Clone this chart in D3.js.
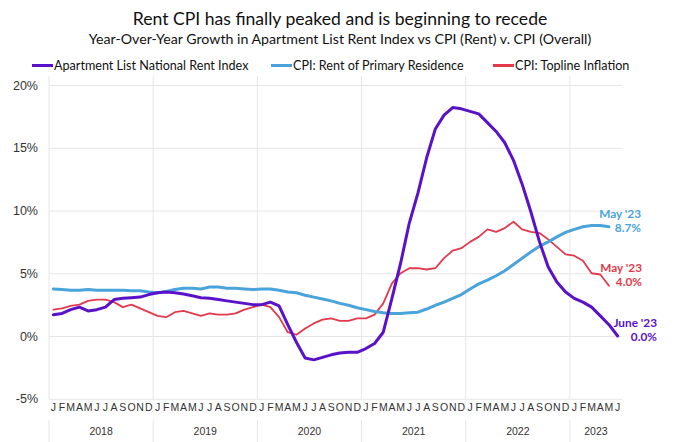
<!DOCTYPE html>
<html>
<head>
<meta charset="utf-8">
<script src="https://cdn.jsdelivr.net/npm/d3@7"></script>
<style>
  body { margin: 0; background: #fff; }
  svg { display: block; }
  .title { font-family: Lato, "Noto Sans", sans-serif; fill: #111; }
  .tick text { font-family: "Liberation Sans", Arial, sans-serif; fill: #333; }
</style>
</head>
<body>
<svg id="chart" width="680" height="442"></svg>
<script>
const YEARS = [2018, 2019, 2020, 2021, 2022, 2023];
const MONTH_LETTERS = ["J", "F", "M", "A", "M", "J", "J", "A", "S", "O", "N", "D"];
const Y_TICKS = [-5, 0, 5, 10, 15, 20];

// Jan 2018 .. Jun 2023
const APARTMENT_LIST = [
  1.7, 1.8, 2.1, 2.3, 2.0, 2.1, 2.3, 2.9, 3.0, 3.05, 3.1, 3.3,
  3.45, 3.5, 3.45, 3.35, 3.2, 3.05, 3.0, 2.9, 2.8, 2.7, 2.6, 2.5,
  2.5, 2.7, 2.4, 0.9, -0.5, -1.75, -1.9, -1.7, -1.5, -1.35, -1.3, -1.3,
  -1.0, -0.6, 0.3, 3.0, 5.8, 9.0, 11.4, 14.2, 16.5, 17.6, 18.2, 18.1,
  17.9, 17.7, 17.0, 16.3, 15.4, 14.0, 12.1, 9.9, 7.5, 5.5, 4.3, 3.5,
  3.0, 2.7, 2.3, 1.6, 0.9, 0.0
];
// Jan 2018 .. May 2023
const CPI_RENT = [
  3.75, 3.7, 3.65, 3.65, 3.7, 3.65, 3.65, 3.65, 3.65, 3.6, 3.6, 3.5,
  3.45, 3.55, 3.7, 3.8, 3.8, 3.75, 3.9, 3.9, 3.8, 3.8, 3.75, 3.7,
  3.75, 3.75, 3.65, 3.5, 3.45, 3.25, 3.1, 2.95, 2.8, 2.6, 2.45, 2.25,
  2.1, 1.95, 1.85, 1.8, 1.8, 1.85, 1.9, 2.15, 2.45, 2.7, 3.0, 3.3,
  3.75, 4.15, 4.45, 4.8, 5.2, 5.7, 6.2, 6.7, 7.15, 7.5, 7.9, 8.25,
  8.5, 8.7, 8.8, 8.8, 8.7
];
const CPI_OVERALL = [
  2.1, 2.2, 2.4, 2.5, 2.8, 2.9, 2.9, 2.7, 2.3, 2.5, 2.2, 1.9,
  1.6, 1.5, 1.9, 2.0, 1.8, 1.6, 1.8, 1.7, 1.7, 1.8, 2.1, 2.3,
  2.5, 2.3, 1.5, 0.3, 0.1, 0.6, 1.0, 1.3, 1.4, 1.2, 1.2, 1.4,
  1.4, 1.7, 2.6, 4.2, 5.0, 5.4, 5.4, 5.3, 5.4, 6.2, 6.8, 7.0,
  7.5, 7.9, 8.5, 8.3, 8.6, 9.1, 8.5, 8.3, 8.2, 7.7, 7.1, 6.5,
  6.4, 6.0, 5.0, 4.9, 4.0
];

const SERIES = [
  { name: "Apartment List National Rent Index", values: APARTMENT_LIST, color: "#5a12c8", width: 3, legendX: 32,
    label: ["June '23", "0.0%"], labelX: 657, labelY: 327 },
  { name: "CPI: Rent of Primary Residence", values: CPI_RENT, color: "#4aa3da", width: 3, legendX: 271,
    label: ["May '23", "8.7%"], labelX: 641, labelY: 218 },
  { name: "CPI: Topline Inflation", values: CPI_OVERALL, color: "#e23a4c", width: 1.8, legendX: 493,
    label: ["May '23", "4.0%"], labelX: 642, labelY: 272 }
];

const MONTHS = APARTMENT_LIST.map((d, i) => i);

const svg = d3.select("#chart");
const LEFT = 49, RIGHT = 622, TOP = 85, BOTTOM = 398.75;

const X_SCALE = d3.scaleBand().domain(MONTHS).range([LEFT, RIGHT]).padding(0);
const Y_SCALE = d3.scaleLinear().domain([-5, 20]).range([BOTTOM, TOP]);
const xMid = i => X_SCALE(i) + X_SCALE.bandwidth() / 2;

// titles
svg.append("text").attr("class", "title")
  .attr("x", 340).attr("y", 25).attr("text-anchor", "middle")
  .attr("font-size", 17.6).text("Rent CPI has finally peaked and is beginning to recede");
svg.append("text").attr("class", "title")
  .attr("x", 340).attr("y", 44).attr("text-anchor", "middle")
  .attr("font-size", 14.2).text("Year-Over-Year Growth in Apartment List Rent Index vs CPI (Rent) v. CPI (Overall)");

// legend
const LEGEND = svg.selectAll(".legend").data(SERIES).enter().append("g").classed("legend", true);
LEGEND.append("line")
  .attr("x1", d => d.legendX).attr("x2", d => d.legendX + 21)
  .attr("y1", 65.5).attr("y2", 65.5)
  .attr("stroke", d => d.color).attr("stroke-width", 3);
LEGEND.append("text").attr("class", "title")
  .attr("x", d => d.legendX + 22).attr("y", 70)
  .attr("font-size", 12.6).text(d => d.name);

// y axis + horizontal grid
const Y_AXIS = d3.axisLeft(Y_SCALE).tickValues(Y_TICKS).tickFormat(d => d + "%")
  .tickSize(-(RIGHT - LEFT)).tickPadding(11);
const yAxisG = svg.append("g").attr("transform", `translate(${LEFT},0)`).call(Y_AXIS);
yAxisG.select(".domain").remove();
yAxisG.selectAll(".tick line").attr("stroke", "#e6e6e8");
yAxisG.selectAll(".tick text").attr("font-size", 12.5).attr("fill", "#333");

// vertical year grid
const YEAR_STARTS = YEARS.map((y, k) => k * 12);
svg.selectAll(".vgrid").data(YEAR_STARTS).enter().append("line").classed("vgrid", true)
  .attr("x1", d => X_SCALE(d)).attr("x2", d => X_SCALE(d))
  .attr("y1", 76).attr("y2", BOTTOM)
  .attr("stroke", "#e6e6e8");
svg.selectAll(".vgrid2").data(YEAR_STARTS).enter().append("line").classed("vgrid2", true)
  .attr("x1", d => X_SCALE(d)).attr("x2", d => X_SCALE(d))
  .attr("y1", 420).attr("y2", 442)
  .attr("stroke", "#e6e6e8");

// month axis
const X_AXIS = d3.axisBottom(X_SCALE).tickFormat(i => MONTH_LETTERS[i % 12]).tickSize(0).tickPadding(5);
const xAxisG = svg.append("g").attr("transform", `translate(0,${BOTTOM})`).call(X_AXIS);
xAxisG.select(".domain").remove();
xAxisG.selectAll(".tick text").attr("font-size", 10.5).attr("fill", "#333");

// year labels
svg.selectAll(".year").data(YEARS).enter().append("text").classed("year", true)
  .attr("x", (y, k) => {
    const first = k * 12;
    const last = Math.min(first + 11, MONTHS.length - 1);
    return (X_SCALE(first) + X_SCALE(last) + X_SCALE.bandwidth()) / 2;
  })
  .attr("y", 435).attr("text-anchor", "middle")
  .attr("font-family", "'Liberation Sans', Arial, sans-serif")
  .attr("font-size", 10.5).attr("fill", "#333")
  .text(d => d);

// lines
const LINE = d3.line().x((d, i) => xMid(i)).y(d => Y_SCALE(d));
svg.selectAll(".series").data(SERIES.slice().reverse()).enter().append("path").classed("series", true)
  .attr("d", d => LINE(d.values))
  .attr("fill", "none")
  .attr("stroke", d => d.color)
  .attr("stroke-width", d => d.width)
  .attr("stroke-linejoin", "round")
  .attr("stroke-linecap", "round");

// end labels
const END = svg.selectAll(".endlabel").data(SERIES).enter().append("text").classed("endlabel", true)
  .attr("x", d => d.labelX).attr("y", d => d.labelY)
  .attr("text-anchor", "end")
  .attr("font-family", "Lato, 'Liberation Sans', sans-serif")
  .attr("font-weight", "bold").attr("font-size", 11.8)
  .attr("fill", d => d.color);
END.append("tspan").attr("x", d => d.labelX).text(d => d.label[0]);
END.append("tspan").attr("x", d => d.labelX).attr("dy", 13.5).text(d => d.label[1]);
</script>
</body>
</html>
